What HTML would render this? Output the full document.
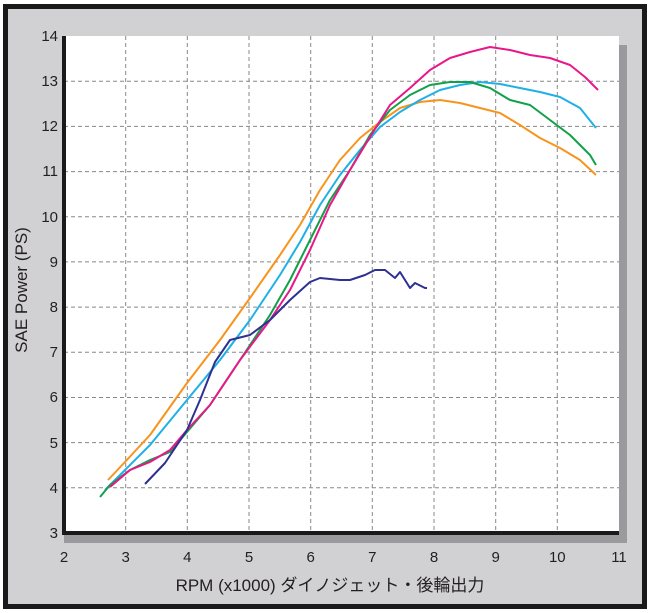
<!DOCTYPE html>
<html><head><meta charset="utf-8"><style>
body{margin:0;background:#fff;}
svg{display:block;font-family:"Liberation Sans","Noto Sans CJK JP",sans-serif;}
</style></head><body>
<svg width="650" height="613" viewBox="0 0 650 613">
<rect x="0" y="0" width="650" height="613" fill="#fff"/>
<rect x="5.5" y="6.5" width="639" height="600" fill="#d1d1d3" stroke="#1a1a1a" stroke-width="5"/>
<rect x="619" y="45" width="8" height="498" fill="#9a9a9c"/>
<rect x="64" y="535" width="563" height="8" fill="#9a9a9c"/>
<rect x="64" y="36" width="555" height="497" fill="#fff"/>
<g stroke="#888" stroke-width="1" stroke-dasharray="4,3" fill="none">
<line x1="125.7" y1="36" x2="125.7" y2="533"/><line x1="187.3" y1="36" x2="187.3" y2="533"/>
<line x1="249" y1="36" x2="249" y2="533"/><line x1="310.7" y1="36" x2="310.7" y2="533"/>
<line x1="372.3" y1="36" x2="372.3" y2="533"/><line x1="434" y1="36" x2="434" y2="533"/>
<line x1="495.7" y1="36" x2="495.7" y2="533"/><line x1="557.3" y1="36" x2="557.3" y2="533"/>
<line x1="64" y1="81.2" x2="619" y2="81.2"/><line x1="64" y1="126.4" x2="619" y2="126.4"/>
<line x1="64" y1="171.6" x2="619" y2="171.6"/><line x1="64" y1="216.7" x2="619" y2="216.7"/>
<line x1="64" y1="261.9" x2="619" y2="261.9"/><line x1="64" y1="307.1" x2="619" y2="307.1"/>
<line x1="64" y1="352.3" x2="619" y2="352.3"/><line x1="64" y1="397.5" x2="619" y2="397.5"/>
<line x1="64" y1="442.6" x2="619" y2="442.6"/><line x1="64" y1="487.8" x2="619" y2="487.8"/>
</g>
<line x1="64" y1="36" x2="64" y2="535" stroke="#1a1a1a" stroke-width="4"/>
<line x1="62" y1="533" x2="619" y2="533" stroke="#1a1a1a" stroke-width="4"/>
<g fill="none" stroke-width="2" stroke-linejoin="round">
<polyline stroke="#f7941d" points="108,480 125,462 150,435 187,383 220,340 250,298 280,255 300,225 320,190 340,160 360,138 380,122 400,108 420,102 440,100 460,103 480,108 500,113 520,125 540,138 560,148 580,160 596,175"/>
<polyline stroke="#1fb0e6" points="105,490 125,470 150,445 187,400 220,360 250,320 280,275 300,242 320,205 340,175 360,150 380,127 400,112 420,100 440,90 460,85 480,82 500,84 520,88 540,92 560,97 580,108 596,128"/>
<polyline stroke="#12a04a" points="100,497 110,485 130,470 150,460 170,452 187,432 210,405 240,360 270,315 290,280 310,240 330,200 350,170 370,135 390,110 410,95 430,85 450,82 470,82 490,88 510,100 530,105 550,120 570,135 590,155 596,165"/>
<polyline stroke="#e8178a" points="110,487 130,470 150,462 170,450 187,430 210,405 240,360 270,320 290,290 310,250 330,205 350,170 370,137 390,105 410,88 430,70 450,58 470,52 490,47 510,50 530,55 550,58 570,65 585,77 598,90"/>
<polyline stroke="#2e3192" points="145,484 165,463 187,430 200,400 215,362 230,340 250,335 270,320 290,300 310,282 320,278 340,280 350,280 365,275 375,270 385,270 395,278 400,272 410,288 415,283 425,288 427,288"/>
</g>
<g font-size="15" fill="#231f20" text-anchor="end">
<text x="58" y="41">14</text><text x="58" y="86">13</text><text x="58" y="131">12</text>
<text x="58" y="176">11</text><text x="58" y="222">10</text><text x="58" y="267">9</text>
<text x="58" y="312">8</text><text x="58" y="357">7</text><text x="58" y="402">6</text>
<text x="58" y="448">5</text><text x="58" y="493">4</text><text x="58" y="538">3</text>
</g>
<g font-size="15" fill="#231f20" text-anchor="middle">
<text x="64" y="562">2</text><text x="125.7" y="562">3</text><text x="187.3" y="562">4</text>
<text x="249" y="562">5</text><text x="310.7" y="562">6</text><text x="372.3" y="562">7</text>
<text x="434" y="562">8</text><text x="495.7" y="562">9</text><text x="557.3" y="562">10</text>
<text x="619" y="562">11</text>
</g>
<text x="330" y="591" font-size="17" fill="#231f20" text-anchor="middle">RPM (x1000) ダイノジェット・後輪出力</text>
<text transform="translate(27,290) rotate(-90)" font-size="17" fill="#231f20" text-anchor="middle">SAE Power (PS)</text>
</svg>
</body></html>
